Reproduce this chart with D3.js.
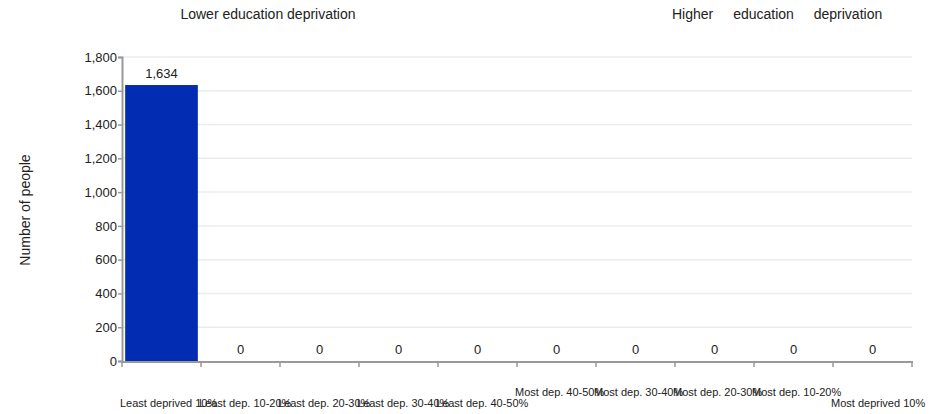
<!DOCTYPE html>
<html>
<head>
<meta charset="utf-8">
<script src="https://cdn.jsdelivr.net/npm/d3@7"></script>
<style>
  html, body { margin: 0; padding: 0; background: #fff; }
  svg { display: block; font-family: "Liberation Sans", Arial, Helvetica, sans-serif; }
</style>
</head>
<body>
<svg id="chart" width="951" height="414"></svg>
<script>
const categories = [
  "Least deprived 10%", "Least dep. 10-20%", "Least dep. 20-30%", "Least dep. 30-40%",
  "Least dep. 40-50%", "Most dep. 40-50%", "Most dep. 30-40%", "Most dep. 20-30%",
  "Most dep. 10-20%", "Most deprived 10%"
];
const values = [1634, 0, 0, 0, 0, 0, 0, 0, 0, 0];
const yTicks = [0, 200, 400, 600, 800, 1000, 1200, 1400, 1600, 1800];
const yTitle = "Number of people";
const leftHeader = "Lower education deprivation";
const rightHeader = "Higher education deprivation";

const svg = d3.select("#chart");
const plot = { left: 122, right: 912, top: 57, bottom: 361 };

const x = d3.scaleBand().domain(categories).range([plot.left, plot.right])
  .paddingInner(0.08).paddingOuter(0.04);
const xb = d3.scaleBand().domain(categories).range([plot.left, plot.right]).padding(0);
const y = d3.scaleLinear().domain([0, 1800]).range([plot.bottom, plot.top]);

// gridlines
svg.append("g").selectAll("line").data(yTicks.filter(d => d > 0)).join("line")
  .attr("x1", plot.left).attr("x2", plot.right)
  .attr("y1", d => y(d)).attr("y2", d => y(d))
  .attr("stroke", "#ececec").attr("stroke-width", 1.5);

// bars
svg.append("g").selectAll("rect").data(values).join("rect")
  .attr("x", (d, i) => x(categories[i]))
  .attr("width", x.bandwidth())
  .attr("y", d => y(d))
  .attr("height", d => y(0) - y(d))
  .attr("fill", "#022cb2");

// value labels
svg.append("g").selectAll("text").data(values).join("text")
  .attr("x", (d, i) => xb(categories[i]) + xb.bandwidth() / 2)
  .attr("y", d => y(d) - 7)
  .attr("text-anchor", "middle")
  .attr("font-size", 13)
  .attr("fill", "#222")
  .text(d => d3.format(",")(d));

// y axis
const yAxis = svg.append("g").attr("transform", `translate(${plot.left},0)`)
  .call(d3.axisLeft(y).tickValues(yTicks).tickFormat(d3.format(",")).tickSize(4).tickPadding(1));
yAxis.select(".domain").attr("stroke", "#999").attr("stroke-width", 2);
yAxis.selectAll(".tick line").attr("stroke", "#999").attr("stroke-width", 1.5);
yAxis.selectAll(".tick text").attr("font-size", 13).attr("fill", "#222")
  .attr("font-family", "Liberation Sans, Arial, sans-serif");

// x axis line and ticks at band boundaries
const bounds = categories.map(c => xb(c)).concat([plot.right]);
svg.append("line").attr("x1", plot.left - 1).attr("x2", plot.right + 1)
  .attr("y1", plot.bottom + 1).attr("y2", plot.bottom + 1)
  .attr("stroke", "#999").attr("stroke-width", 2);
svg.append("g").selectAll("line").data(bounds).join("line")
  .attr("x1", d => d).attr("x2", d => d)
  .attr("y1", plot.bottom + 1).attr("y2", plot.bottom + 6)
  .attr("stroke", "#999").attr("stroke-width", 1.5);

// x labels (left-aligned at band start, staggered)
svg.append("g").selectAll("text").data(categories).join("text")
  .attr("x", d => xb(d) - 2)
  .attr("y", (d, i) => (i >= 5 && i <= 8) ? 396 : 407)
  .attr("font-size", 11)
  .attr("fill", "#222")
  .text(d => d);

// y title
svg.append("text")
  .attr("transform", "translate(30,210) rotate(-90)")
  .attr("text-anchor", "middle")
  .attr("font-size", 14)
  .attr("fill", "#222")
  .text(yTitle);

// headers
svg.append("text").attr("x", 268).attr("y", 19).attr("text-anchor", "middle")
  .attr("font-size", 14).attr("fill", "#222").text(leftHeader);
svg.append("text").attr("x", 672).attr("y", 19)
  .attr("font-size", 14).attr("fill", "#222").attr("word-spacing", 16).text(rightHeader);
</script>
</body>
</html>
